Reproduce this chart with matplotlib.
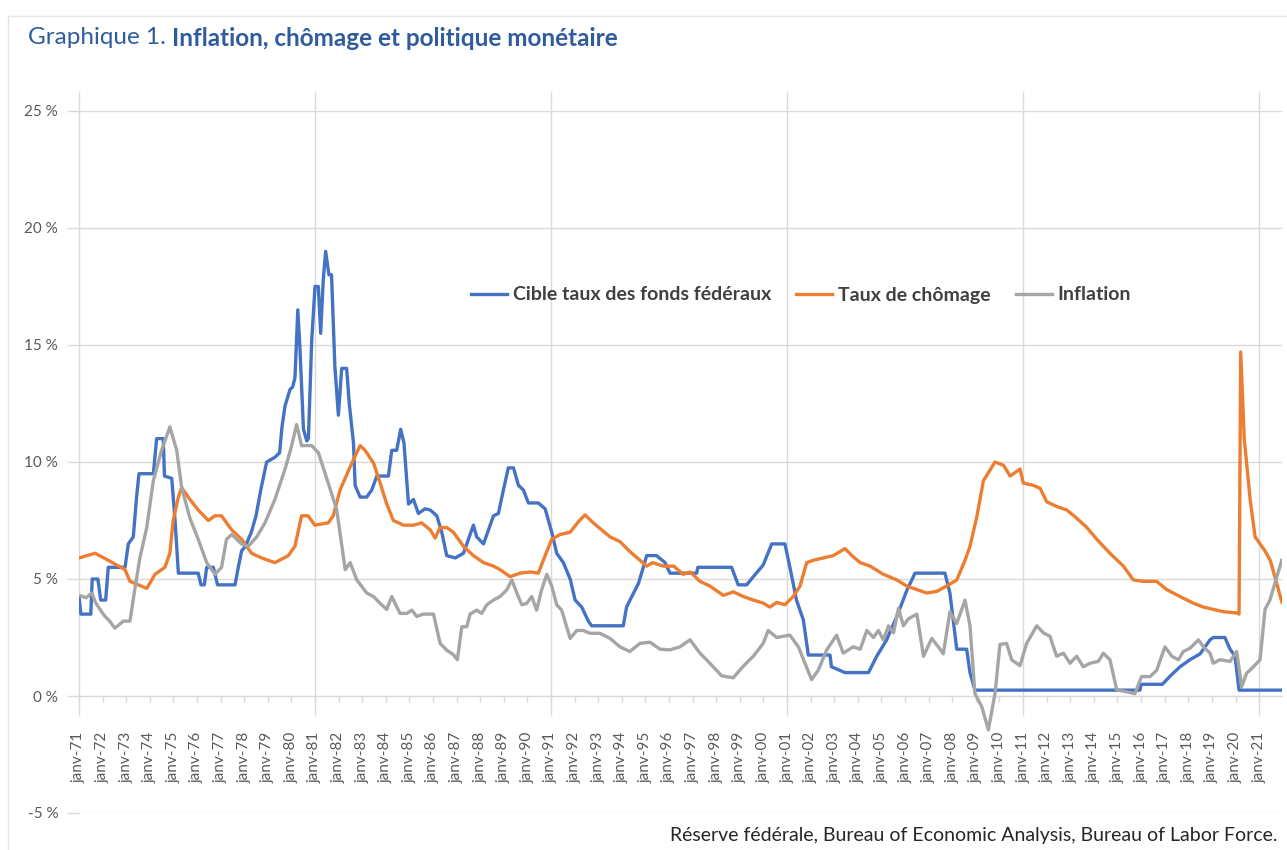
import matplotlib
matplotlib.use('Agg')
import matplotlib.pyplot as plt
from matplotlib.patches import Rectangle

plt.rcParams['font.family'] = ['Lato', 'DejaVu Sans']

# ---------------- data (decimal year, %) ----------------
fed_x = [1971.0, 1971.08, 1971.5, 1971.56, 1971.8, 1971.92, 1972.13, 1972.24, 1972.95, 1973.09,
         1973.3, 1973.44, 1973.54, 1974.15, 1974.29, 1974.57, 1974.62, 1974.93, 1975.07, 1975.21,
         1976.05, 1976.17, 1976.31, 1976.41, 1976.69, 1976.87, 1977.61, 1977.75, 1977.89, 1978.05,
         1978.3, 1978.5, 1978.7, 1978.95, 1979.3, 1979.5, 1979.6, 1979.73, 1979.94, 1980.05,
         1980.15, 1980.27, 1980.36, 1980.51, 1980.65, 1980.72, 1980.86, 1981.0, 1981.14, 1981.24,
         1981.35, 1981.45, 1981.59, 1981.70, 1981.84, 1981.99, 1982.13, 1982.34, 1982.45, 1982.63,
         1982.70, 1982.91, 1983.19, 1983.4, 1983.62, 1984.11, 1984.25, 1984.46, 1984.63, 1984.77,
         1984.96, 1985.17, 1985.38, 1985.66, 1985.88, 1986.16, 1986.37, 1986.58, 1986.94, 1987.29,
         1987.5, 1987.71, 1987.85, 1988.14, 1988.35, 1988.56, 1988.77, 1988.98, 1989.19, 1989.41,
         1989.62, 1989.83, 1990.04, 1990.46, 1990.75, 1991.03, 1991.24, 1991.52, 1991.81, 1992.02,
         1992.3, 1992.58, 1992.72, 1994.06, 1994.2, 1994.42, 1994.7, 1994.91, 1995.05, 1995.47,
         1995.83, 1996.04, 1997.17, 1997.22, 1998.65, 1998.93, 1999.29, 1999.57, 1999.99, 2000.35,
         2000.91, 2001.12, 2001.4, 2001.69, 2001.9, 2002.82, 2002.88, 2003.45, 2004.45, 2004.8,
         2005.22, 2005.65, 2006.07, 2006.42, 2007.69, 2007.9, 2008.19, 2008.61, 2008.75, 2008.96,
         2015.95, 2016.0, 2016.9, 2017.23, 2017.65, 2018.07, 2018.5, 2018.92, 2019.06, 2019.55,
         2019.77, 2019.98, 2020.15, 2021.96]
fed_y = [4.25, 3.5, 3.5, 5.0, 5.0, 4.1, 4.1, 5.5, 5.5, 6.5,
         6.8, 8.5, 9.5, 9.5, 11.0, 11.0, 9.4, 9.3, 7.5, 5.25,
         5.25, 4.75, 4.75, 5.5, 5.5, 4.75, 4.75, 5.5, 6.2, 6.4,
         7.0, 7.7, 8.8, 10.0, 10.2, 10.4, 11.5, 12.4, 13.1, 13.2,
         13.6, 16.5, 14.9, 11.4, 10.9, 11.0, 15.2, 17.5, 17.5, 15.5,
         17.8, 19.0, 18.0, 18.0, 14.1, 12.0, 14.0, 14.0, 12.5, 10.8,
         9.0, 8.5, 8.5, 8.8, 9.4, 9.4, 10.5, 10.5, 11.4, 10.8,
         8.2, 8.4, 7.8, 8.0, 7.95, 7.7, 7.0, 6.0, 5.9, 6.1,
         6.7, 7.3, 6.8, 6.5, 7.1, 7.7, 7.8, 8.8, 9.75, 9.75,
         9.0, 8.8, 8.25, 8.25, 8.0, 7.0, 6.1, 5.7, 5.0, 4.1,
         3.8, 3.2, 3.0, 3.0, 3.8, 4.25, 4.8, 5.5, 6.0, 6.0,
         5.7, 5.25, 5.25, 5.5, 5.5, 4.75, 4.75, 5.1, 5.6, 6.5,
         6.5, 5.5, 4.1, 3.25, 1.75, 1.75, 1.25, 1.0, 1.0, 1.7,
         2.4, 3.4, 4.5, 5.25, 5.25, 4.4, 2.0, 2.0, 1.0, 0.25,
         0.25, 0.5, 0.5, 0.85, 1.25, 1.55, 1.8, 2.4, 2.5, 2.5,
         2.0, 1.7, 0.25, 0.25]

unemp_x = [1971.0, 1971.68, 1972.24, 1972.95, 1973.16, 1973.87, 1974.22, 1974.64, 1974.85, 1974.99,
           1975.21, 1975.35, 1975.7, 1976.05, 1976.48, 1976.76, 1977.04, 1977.47, 1977.89, 1978.31,
           1978.74, 1979.3, 1979.87, 1980.15, 1980.43, 1980.71, 1980.99, 1981.56, 1981.77, 1982.06,
           1982.49, 1982.91, 1983.12, 1983.48, 1983.76, 1984.04, 1984.32, 1984.75, 1985.17, 1985.52,
           1985.88, 1986.09, 1986.3, 1986.58, 1986.86, 1987.29, 1987.71, 1988.14, 1988.56, 1988.84,
           1989.26, 1989.69, 1990.11, 1990.46, 1990.75, 1991.03, 1991.38, 1991.81, 1992.16, 1992.44,
           1992.79, 1993.07, 1993.5, 1993.92, 1994.34, 1994.77, 1995.05, 1995.3, 1995.76, 1996.2,
           1996.6, 1996.9, 1997.31, 1997.73, 1998.3, 1998.72, 1999.15, 1999.57, 1999.99, 2000.27,
           2000.56, 2000.91, 2001.26, 2001.55, 2001.83, 2002.11, 2002.53, 2002.96, 2003.45, 2003.8,
           2004.1, 2004.52, 2005.08, 2005.65, 2006.07, 2006.5, 2006.92, 2007.34, 2007.76, 2008.19,
           2008.54, 2008.75, 2009.04, 2009.32, 2009.6, 2009.81, 2010.17, 2010.45, 2010.87, 2011.01,
           2011.44, 2011.72, 2012.0, 2012.42, 2012.85, 2013.27, 2013.7, 2014.12, 2014.68, 2015.25,
           2015.67, 2016.1, 2016.66, 2017.08, 2017.65, 2018.21, 2018.64, 2019.06, 2019.49, 2020.05,
           2020.15, 2020.22, 2020.37, 2020.62, 2020.83, 2021.25, 2021.47, 2021.97]
unemp_y = [5.9, 6.1, 5.8, 5.4, 4.9, 4.6, 5.2, 5.5, 6.1, 7.5,
           8.5, 8.9, 8.4, 7.95, 7.5, 7.7, 7.7, 7.1, 6.7, 6.1,
           5.9, 5.7, 6.0, 6.4, 7.7, 7.7, 7.3, 7.4, 7.7, 8.8,
           9.8, 10.7, 10.5, 9.95, 9.1, 8.2, 7.5, 7.3, 7.3, 7.4,
           7.1, 6.75, 7.2, 7.2, 7.0, 6.4, 6.0, 5.7, 5.55, 5.4,
           5.1, 5.25, 5.3, 5.25, 6.0, 6.7, 6.9, 7.0, 7.45, 7.74,
           7.4, 7.16, 6.8, 6.6, 6.17, 5.8, 5.55, 5.7, 5.55, 5.55,
           5.2, 5.3, 4.9, 4.7, 4.3, 4.45, 4.25, 4.1, 3.97, 3.8,
           4.0, 3.9, 4.25, 4.7, 5.7, 5.8, 5.9, 6.0, 6.3, 5.95,
           5.7, 5.55, 5.2, 4.96, 4.7, 4.55, 4.4, 4.47, 4.7, 4.96,
           5.8, 6.4, 7.66, 9.2, 9.66, 10.0, 9.86, 9.4, 9.7, 9.1,
           9.0, 8.88, 8.3, 8.1, 7.95, 7.6, 7.2, 6.7, 6.1, 5.55,
           4.96, 4.9, 4.9, 4.55, 4.25, 3.97, 3.8, 3.7, 3.6, 3.55,
           3.5, 14.7, 11.0, 8.4, 6.8, 6.2, 5.8, 4.0]

infl_x = [1971.0, 1971.3, 1971.54, 1971.7, 1971.89, 1972.1, 1972.3, 1972.52, 1972.88, 1973.16,
          1973.37, 1973.58, 1973.87, 1974.15, 1974.5, 1974.85, 1975.14, 1975.35, 1975.7, 1976.05,
          1976.41, 1976.76, 1977.04, 1977.25, 1977.47, 1977.89, 1978.17, 1978.53, 1978.88, 1979.3,
          1979.73, 1980.01, 1980.22, 1980.43, 1980.86, 1981.14, 1981.56, 1981.84, 1981.92, 1982.28,
          1982.49, 1982.77, 1983.19, 1983.48, 1983.76, 1984.04, 1984.25, 1984.6, 1984.89, 1985.1,
          1985.31, 1985.59, 1986.02, 1986.3, 1986.58, 1986.86, 1987.03, 1987.22, 1987.43, 1987.57,
          1987.85, 1988.06, 1988.28, 1988.56, 1988.84, 1989.12, 1989.34, 1989.55, 1989.76, 1989.97,
          1990.18, 1990.39, 1990.6, 1990.82, 1991.03, 1991.24, 1991.45, 1991.81, 1992.09, 1992.37,
          1992.65, 1993.07, 1993.5, 1993.92, 1994.34, 1994.77, 1995.19, 1995.62, 1996.04, 1996.46,
          1996.89, 1997.31, 1997.73, 1998.23, 1998.72, 1999.15, 1999.57, 1999.99, 2000.2, 2000.56,
          2001.12, 2001.48, 2001.76, 2002.04, 2002.32, 2002.68, 2003.1, 2003.38, 2003.8, 2004.1,
          2004.38, 2004.66, 2004.87, 2005.08, 2005.3, 2005.51, 2005.72, 2005.93, 2006.14, 2006.5,
          2006.78, 2007.13, 2007.41, 2007.62, 2007.9, 2008.19, 2008.54, 2008.75, 2008.96, 2009.25,
          2009.53, 2009.81, 2010.02, 2010.3, 2010.52, 2010.87, 2011.15, 2011.58, 2011.86, 2012.14,
          2012.42, 2012.71, 2012.99, 2013.27, 2013.55, 2013.84, 2014.19, 2014.4, 2014.68, 2014.97,
          2015.39, 2015.74, 2016.02, 2016.38, 2016.66, 2017.01, 2017.3, 2017.58, 2017.79, 2018.07,
          2018.43, 2018.64, 2018.92, 2019.06, 2019.34, 2019.77, 2020.05, 2020.26, 2020.47, 2020.76,
          2021.04, 2021.25, 2021.46, 2021.75, 2021.96]
infl_y = [4.3, 4.2, 4.4, 4.0, 3.7, 3.4, 3.2, 2.9, 3.2, 3.2,
          4.6, 5.9, 7.2, 9.2, 10.5, 11.5, 10.5, 8.9, 7.6, 6.7,
          5.7, 5.2, 5.5, 6.7, 6.9, 6.5, 6.4, 6.8, 7.4, 8.4,
          9.7, 10.7, 11.6, 10.7, 10.7, 10.4, 9.1, 8.2, 7.95, 5.4,
          5.7, 4.96, 4.4, 4.25, 3.96, 3.7, 4.25, 3.53, 3.53, 3.67,
          3.4, 3.5, 3.5, 2.25, 1.96, 1.77, 1.55, 2.96, 2.96, 3.5,
          3.67, 3.53, 3.9, 4.1, 4.25, 4.53, 4.96, 4.4, 3.9, 3.96,
          4.25, 3.67, 4.53, 5.2, 4.7, 3.9, 3.67, 2.46, 2.8, 2.8,
          2.68, 2.68, 2.46, 2.1, 1.9, 2.25, 2.3, 2.0, 1.97, 2.1,
          2.4, 1.83, 1.4, 0.86, 0.78, 1.28, 1.7, 2.25, 2.8, 2.5,
          2.6, 2.1, 1.4, 0.7, 1.1, 1.97, 2.6, 1.83, 2.1, 2.0,
          2.8, 2.5, 2.8, 2.4, 3.0, 2.7, 3.75, 3.0, 3.3, 3.5,
          1.7, 2.46, 2.1, 1.8, 3.6, 3.1, 4.1, 3.0, 0.1, -0.46,
          -1.45, 0.1, 2.2, 2.25, 1.54, 1.3, 2.25, 3.0, 2.7, 2.55,
          1.7, 1.83, 1.4, 1.7, 1.25, 1.4, 1.48, 1.83, 1.55, 0.26,
          0.18, 0.1, 0.83, 0.83, 1.1, 2.1, 1.7, 1.55, 1.9, 2.04,
          2.4, 2.1, 1.83, 1.4, 1.55, 1.48, 1.9, 0.4, 0.97, 1.25,
          1.55, 3.7, 4.1, 5.1, 5.8]

tick_years = list(range(1971, 2022))
tick_labels = ['janv-%02d' % (y % 100) for y in tick_years]
y_ticks = [-5, 0, 5, 10, 15, 20, 25]
y_labels = ['%d %%' % v for v in y_ticks]
series_names = ['Cible taux des fonds fédéraux', 'Taux de chômage', 'Inflation']
title_a = 'Graphique 1. '
title_b = 'Inflation, chômage et politique monétaire'
source = 'Réserve fédérale, Bureau of Economic Analysis, Bureau of Labor Force.'

# ---------------- figure ----------------
W, H = 1287, 850
fig = plt.figure(figsize=(W / 100, H / 100), dpi=100)
fig.patch.set_facecolor('white')

ax = fig.add_axes([79 / W, 1 - 813 / H, (1282 - 79) / W, (813 - 111) / H])
ax.set_xlim(1971.0, 2021.97)
ax.set_ylim(-5, 25)

grid_c = '#D9D9D9'
txt_c = '#595959'

for s in ['top', 'right', 'left']:
    ax.spines[s].set_visible(False)
ax.spines['bottom'].set_position(('data', 0))
ax.spines['bottom'].set_color(grid_c)

ax.set_yticks(y_ticks)
ax.set_yticklabels(y_labels)
ax.tick_params(axis='y', length=8.5, width=1, color=grid_c, pad=6.5,
               labelsize=11, labelcolor=txt_c)
ax.yaxis.grid(True, color=grid_c, lw=1)
ax.set_axisbelow(True)

ax.set_xticks(tick_years)
ax.set_xticklabels(tick_labels, rotation=90)
ax.tick_params(axis='x', length=4, width=1, color=grid_c, direction='out', pad=22,
               labelsize=11, labelcolor=txt_c)

ax.vlines(list(range(1971, 2022, 10)), -0.8, 25.8, colors=grid_c, lw=1,
          clip_on=False, zorder=0.5)

lw = 2.4
l1, = ax.plot(fed_x, fed_y, color='#4472C4', lw=lw, solid_joinstyle='round', zorder=3)
l2, = ax.plot(unemp_x, unemp_y, color='#ED7D31', lw=lw, solid_joinstyle='round', zorder=3)
l3, = ax.plot(infl_x, infl_y, color='#A5A5A5', lw=lw, solid_joinstyle='round', zorder=3)

leg = fig.legend([l1, l2, l3], series_names, loc='center', ncol=3,
                 bbox_to_anchor=(801 / W, 1 - 295 / H), bbox_transform=fig.transFigure,
                 frameon=False, handlelength=1.85, handletextpad=0.3, columnspacing=1.3,
                 prop={'size': 14, 'weight': 'bold'})
for t in leg.get_texts():
    t.set_color('#404040')

# title
ta = fig.text(28 / W, 1 - 38 / H, title_a, color='#2E5C9E', fontsize=17.5, va='center')
fig.canvas.draw()
bb = ta.get_window_extent()
fig.text(bb.x1 / W, 1 - 38 / H, title_b, color='#2E5C9E', fontsize=17.5,
         fontweight='bold', va='center')

fig.text(1278 / W, 1 - 835 / H, source, color='#262626', fontsize=14,
         ha='right', va='center')

fig.patches.append(Rectangle((8 / W, -0.02), 1.0, (H - 16) / H + 0.02, fill=False,
                             edgecolor='#E4E4E4', lw=1, transform=fig.transFigure))

fig.savefig('out.png', dpi=100)
